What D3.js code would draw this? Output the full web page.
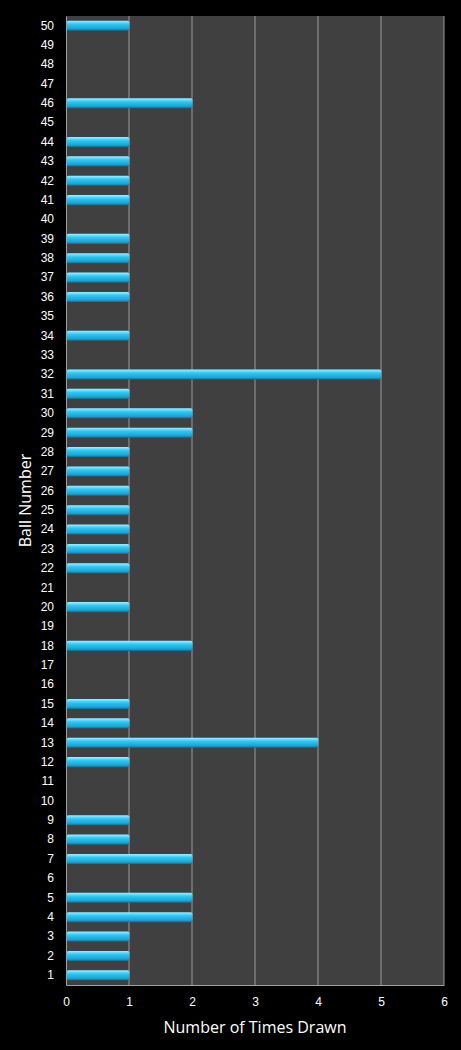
<!DOCTYPE html>
<html><head><meta charset="utf-8">
<script src="https://cdn.jsdelivr.net/npm/d3@7"></script>
<style>body{margin:0;background:#000}</style>
</head><body>
<script>
var balls = d3.range(1, 51)
var drawn = {1:1,2:1,3:1,4:2,5:2,7:2,8:1,9:1,12:1,13:4,14:1,15:1,18:2,20:1,22:1,23:1,24:1,25:1,26:1,27:1,28:1,29:2,30:2,31:1,32:5,34:1,36:1,37:1,38:1,39:1,41:1,42:1,43:1,44:1,46:2,50:1}
var xTicks = [0, 1, 2, 3, 4, 5, 6]

var width = 461, height = 1050
var pLeft = 66, pRight = 444, pTop = 16, pBottom = 985

var svg = d3.select("body").append("svg").attr("width", width).attr("height", height)
    .style("font-family", "'Open Sans', 'DejaVu Sans', sans-serif")

var grad = svg.append("defs").append("linearGradient").attr("id", "bar")
    .attr("x1", 0).attr("y1", 0).attr("x2", 0).attr("y2", 1)
grad.append("stop").attr("offset", "0%").attr("stop-color", "#a8ecff")
grad.append("stop").attr("offset", "35%").attr("stop-color", "#2fc8f2")
grad.append("stop").attr("offset", "80%").attr("stop-color", "#14a6d8")
grad.append("stop").attr("offset", "100%").attr("stop-color", "#0b6f94")

var x = d3.scaleLinear().domain([0, 6]).range([pLeft, pRight])
var y = d3.scaleBand().domain(balls).range([pBottom, pTop])

svg.append("rect").attr("x", pLeft).attr("y", pTop)
    .attr("width", pRight - pLeft).attr("height", pBottom - pTop).attr("fill", "#404040")

svg.selectAll(".grid").data(xTicks.slice(1)).enter().append("line")
    .attr("x1", x).attr("x2", x).attr("y1", pTop).attr("y2", pBottom)
    .attr("stroke", "#9a9a9a").attr("stroke-width", 1)

var bw = y.bandwidth() * 0.52
svg.selectAll(".bar").data(balls.filter(function(b) { return drawn[b] })).enter().append("rect")
    .attr("x", x(0) + 0.5)
    .attr("y", function(d) { return y(d) + (y.bandwidth() - bw) / 2 })
    .attr("width", function(d) { return x(drawn[d]) - x(0) })
    .attr("height", bw)
    .attr("rx", 2)
    .attr("fill", "url(#bar)")

var xAxis = d3.axisBottom(x).tickValues(xTicks).tickFormat(d3.format("d")).tickSize(0).tickPadding(12)
svg.append("g").attr("transform", "translate(0," + pBottom + ")").call(xAxis)
var yAxis = d3.axisLeft(y).tickSize(0).tickPadding(12)
svg.append("g").attr("transform", "translate(" + pLeft + ",0)").call(yAxis)
svg.selectAll(".domain").attr("stroke", "#a0a0a0")
svg.selectAll(".tick text").attr("fill", "#fff").style("font-size", "12px")

svg.append("text").attr("x", (pLeft + pRight) / 2).attr("y", 1033)
    .attr("text-anchor", "middle").attr("fill", "#fff").style("font-size", "16px")
    .text("Number of Times Drawn")
svg.append("text").attr("transform", "translate(31," + (pTop + pBottom) / 2 + ") rotate(-90)")
    .attr("text-anchor", "middle").attr("fill", "#fff").style("font-size", "16px")
    .text("Ball Number")
</script>
</body></html>
